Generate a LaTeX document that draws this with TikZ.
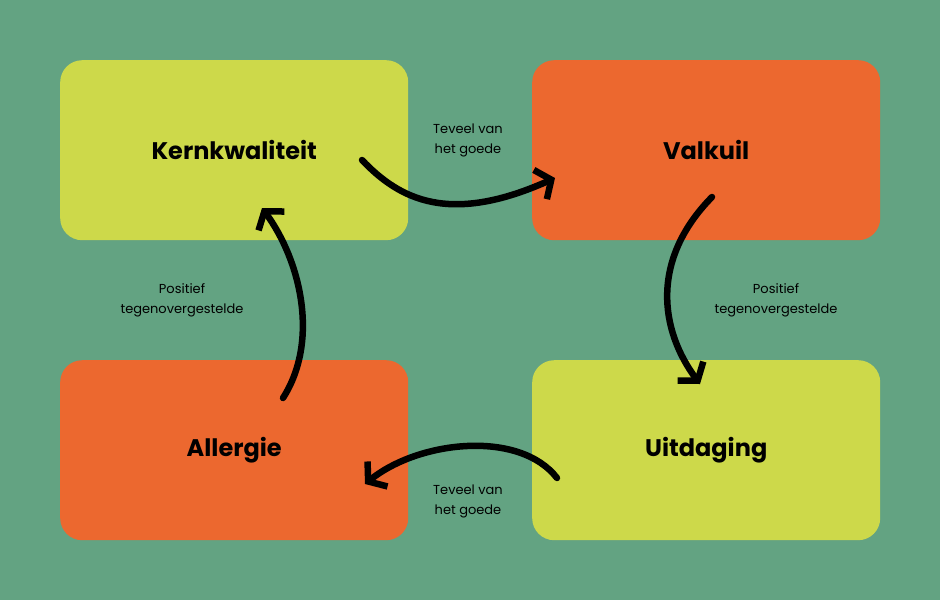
\documentclass[tikz,border=0pt]{standalone}
\usepackage{fontspec}
\setmainfont{Poppins}
\usetikzlibrary{arrows.meta}
\definecolor{bg}{HTML}{63A382}
\definecolor{yel}{HTML}{CDD94A}
\definecolor{ora}{HTML}{EC682F}
\begin{document}
\begin{tikzpicture}[x=1pt,y=-1pt,
  box/.style={rounded corners=22pt,minimum width=348pt,minimum height=180pt,anchor=north west,inner sep=0pt,font=\fontsize{24}{28}\selectfont\bfseries},
  lab/.style={align=center,font=\fontsize{13}{20}\selectfont},
  arr/.style={line width=6.5pt,line cap=round,-{Straight Barb[length=12pt,width=32pt,line width=6.5pt]}}]
\fill[bg] (0,0) rectangle (940,600);
\node[box,fill=yel] (k) at (60,60) {Kernkwaliteit};
\node[box,fill=ora] (v) at (532,60) {Valkuil};
\node[box,fill=ora] (a) at (60,360) {Allergie};
\node[box,fill=yel] (u) at (532,360) {Uitdaging};
\coordinate (k1) at (362,160); \coordinate (v1) at (555,178);
\coordinate (v2) at (712,197); \coordinate (u2) at (700,384);
\coordinate (u3) at (557,478); \coordinate (a3) at (365,484);
\coordinate (a4) at (283,398); \coordinate (k4) at (262,208);
\draw[arr] (k1) .. controls (400,200) and (450,225) .. (v1);
\draw[arr] (v2) .. controls (650,260) and (660,330) .. (u2);
\draw[arr] (u3) .. controls (520,430) and (420,440) .. (a3);
\draw[arr] (a4) .. controls (320,340) and (300,260) .. (k4);
\node[lab] (l1) at (468,140) {Teveel van\\het goede};
\node[lab] (l2) at (776,300) {Positief\\tegenovergestelde};
\node[lab] (l3) at (182,300) {Positief\\tegenovergestelde};
\node[lab] (l4) at (468,501) {Teveel van\\het goede};
\end{tikzpicture}
\end{document}
